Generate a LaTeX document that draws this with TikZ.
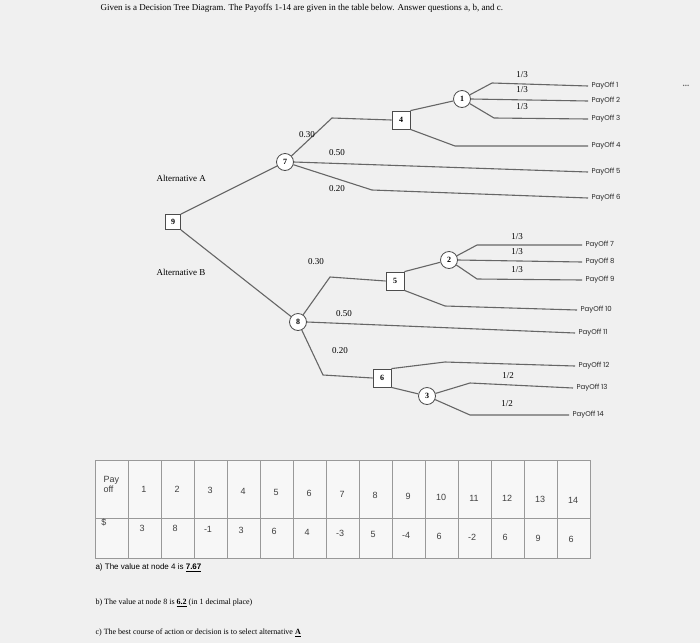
\documentclass[tikz,border=0pt]{standalone}
\usepackage{fontspec}
\setmainfont{Liberation Serif}
\newfontfamily\tabfont{Liberation Sans}
\newfontfamily\payfont{Poppins}
\begin{document}
\begin{tikzpicture}[x=1pt,y=-1pt,
  ln/.style={draw=black!60,line width=1.1pt},
  dec/.style={draw=black!70,fill=white,line width=0.8pt,minimum size=15pt,inner sep=0pt,font=\bfseries\fontsize{8}{9}\selectfont},
  chc/.style={circle,draw=black!70,fill=white,line width=0.8pt,minimum size=17pt,inner sep=0pt,font=\bfseries\fontsize{8}{9}\selectfont},
  pay/.style={font=\payfont\fontsize{7}{8}\selectfont,anchor=west,text=black!85},
  pl/.style={font=\fontsize{9}{10}\selectfont},
  cell/.style={font=\tabfont\fontsize{9}{10}\selectfont,text=black!75}]
\fill[black!6] (0,0) rectangle (700,643);
\node[anchor=west,font=\fontsize{9}{10}\selectfont] (title) at (97,8) {Given is a Decision Tree Diagram. The Payoffs 1-14 are given in the table below. Answer questions a, b, and c.};
\node[font=\bfseries\small,text=black!60] (dots) at (686,86) {...};
% nodes
\node[dec] (n9) at (173,222) {9};
\node[chc] (n7) at (285,162) {7};
\node[dec,minimum size=18pt] (n4) at (401,120) {4};
\node[chc] (n1) at (462,99) {1};
\node[chc] (n8) at (298,322) {8};
\node[dec,minimum size=18pt] (n5) at (395,281) {5};
\node[chc] (n2) at (449,260) {2};
\node[dec,minimum size=18pt] (n6) at (382,378) {6};
\node[chc] (n3) at (427,396) {3};
\node[pl,anchor=west] (altA) at (153,178) {Alternative A};
\node[pl,anchor=west] (altB) at (153,272) {Alternative B};
% payoff labels
\foreach \i/\y in {1/86,2/101,3/119,4/146,5/172,6/198}{\node[pay] (p\i) at (588,\y) {PayOff \i};}
\foreach \i/\x/\y in {7/582/245,8/582/262,9/582/280,10/577/310,11/575/333,12/575/366,13/573/388,14/569/415}{\node[pay] (p\i) at (\x,\y) {PayOff \i};}
% branches A
\draw[ln] (n9.north east) -- (n7);
\draw[ln] (n7) -- (332,118) -- (n4.west);
\draw[ln] (n4.north east) -- (n1);
\draw[ln] (n1) -- (492,83) -- (p1.west);
\draw[ln] (n1.east) -- (p2.west);
\draw[ln] (n1) -- (494,118) -- (p3.west);
\draw[ln] (n4.south east) -- (455,146) -- (p4.west);
\draw[ln] (n7.east) -- (p5.west);
\draw[ln] (n7) -- (372,190) -- (p6.west);
\node[pl] (l1) at (307,135) {0.30};
\node[pl] (l2) at (337,153) {0.50};
\node[pl] (l3) at (337,189) {0.20};
\node[pl] (l4) at (522,75) {1/3};
\node[pl] (l5) at (522,90) {1/3};
\node[pl] (l6) at (522,107) {1/3};
% branches B
\draw[ln] (n9.south east) -- (n8);
\draw[ln] (n8) -- (330,277) -- (n5.west);
\draw[ln] (n5.north east) -- (n2);
\draw[ln] (n2) -- (477,245) -- (p7.west);
\draw[ln] (n2.east) -- (p8.west);
\draw[ln] (n2) -- (477,279) -- (p9.west);
\draw[ln] (n5.south east) -- (445,306) -- (p10.west);
\draw[ln] (n8.east) -- (p11.west);
\draw[ln] (n8) -- (323,375) -- (n6.west);
\draw[ln] (n6.north east) -- (445,362) -- (p12.west);
\draw[ln] (n6.south east) -- (n3);
\draw[ln] (n3) -- (470,383) -- (p13.west);
\draw[ln] (n3) -- (470,415) -- (p14.west);
\node[pl] (l7) at (316,262) {0.30};
\node[pl] (l8) at (344,314) {0.50};
\node[pl] (l9) at (340,351) {0.20};
\node[pl] (l10) at (517,237) {1/3};
\node[pl] (l11) at (517,252) {1/3};
\node[pl] (l12) at (517,270) {1/3};
\node[pl] (l13) at (508,376) {1/2};
\node[pl] (l14) at (507,404) {1/2};
% table
\fill[black!3] (95,460) rectangle (590,558);
\draw[black!40] (95,460) rectangle (590,558);
\draw[black!40] (95,518) -- (590,518);
\foreach \k in {1,...,14}{\draw[black!40] ({95+33*\k},460) -- ({95+33*\k},558);}
\node[cell,align=left,anchor=west] (h0) at (100,484) {Pay\\off};
\node[cell] (d0) at (104,522) {\$};
\foreach \k/\v in {1/3,2/8,3/-1,4/3,5/6,6/4,7/-3,8/5,9/-4,10/6,11/-2,12/6,13/9,14/6}{
  \node[cell] (h\k) at ({95+33*\k+16},{488+\k*0.9}) {\k};
  \node[cell] (d\k) at ({95+33*\k+14},{527+\k*0.9}) {\v};}
% questions
\node[anchor=west,font=\tabfont\fontsize{8}{9}\selectfont] (qa) at (92,568) {a) The value at node 4 is \underline{\textbf{7.67}}};
\node[anchor=west,font=\fontsize{8}{9}\selectfont] (qb) at (92,603) {b) The value at node 8 is \underline{\textbf{6.2}} (in 1 decimal place)};
\node[anchor=west,font=\fontsize{8}{9}\selectfont] (qc) at (92,633) {c) The best course of action or decision is to select alternative \underline{\textbf{A}}};
\end{tikzpicture}
\end{document}
